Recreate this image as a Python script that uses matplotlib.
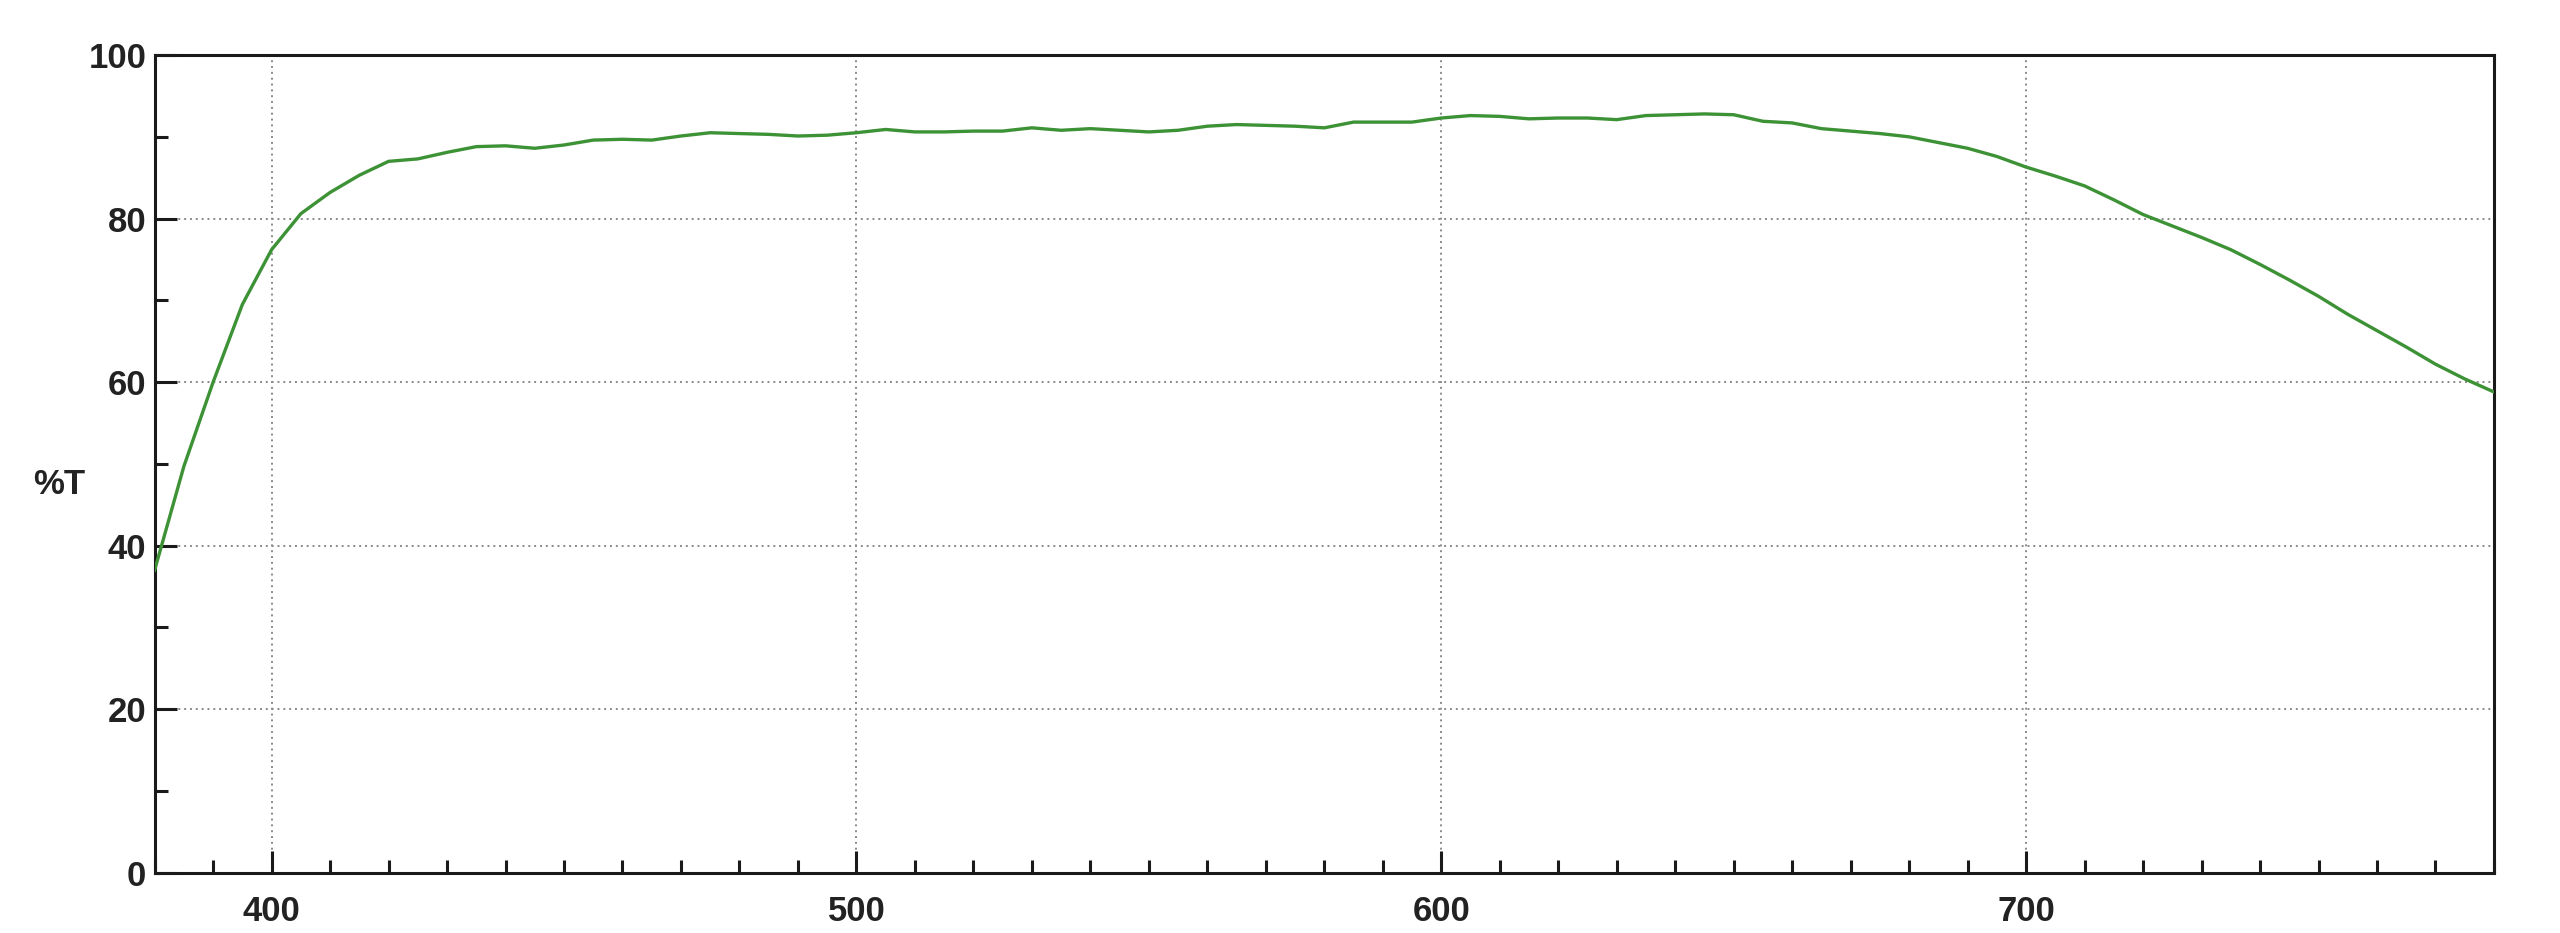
import matplotlib
matplotlib.use("Agg")
import matplotlib.pyplot as plt
from matplotlib.ticker import MultipleLocator

wavelength = [380, 385, 390, 395, 400, 405, 410, 415, 420, 425, 430, 435, 440, 445,
              450, 455, 460, 465, 470, 475, 480, 485, 490, 495, 500, 505, 510, 515,
              520, 525, 530, 535, 540, 545, 550, 555, 560, 565, 570, 575, 580, 585,
              590, 595, 600, 605, 610, 615, 620, 625, 630, 635, 640, 645, 650, 655,
              660, 665, 670, 675, 680, 685, 690, 695, 700, 705, 710, 715, 720, 725,
              730, 735, 740, 745, 750, 755, 760, 765, 770, 775, 780]
transmittance = [37.0, 49.7, 60.0, 69.5, 76.2, 80.6, 83.2, 85.3, 87.0, 87.3, 88.1, 88.8,
                 88.9, 88.6, 89.0, 89.6, 89.7, 89.6, 90.1, 90.5, 90.4, 90.3, 90.1, 90.2,
                 90.5, 90.9, 90.6, 90.6, 90.7, 90.7, 91.1, 90.8, 91.0, 90.8, 90.6, 90.8,
                 91.3, 91.5, 91.4, 91.3, 91.1, 91.8, 91.8, 91.8, 92.3, 92.6, 92.5, 92.2,
                 92.3, 92.3, 92.1, 92.6, 92.7, 92.8, 92.7, 91.9, 91.7, 91.0, 90.7, 90.4,
                 90.0, 89.3, 88.6, 87.6, 86.3, 85.2, 84.0, 82.3, 80.5, 79.1, 77.7, 76.2,
                 74.4, 72.5, 70.5, 68.3, 66.3, 64.3, 62.2, 60.4, 58.8]

x_major = [400, 500, 600, 700]
y_major = [0, 20, 40, 60, 80, 100]
y_label = "%T"

plt.rcParams['font.family'] = ['Liberation Sans', 'DejaVu Sans']

fig = plt.figure(figsize=(25.6, 9.33), dpi=100)
ax = fig.add_axes([0.0604, 0.0645, 0.9138, 0.8765])

ax.plot(wavelength, transmittance, color='#3d9236', lw=2.4, zorder=3,
        solid_joinstyle='round')

ax.set_xlim(380, 780)
ax.set_ylim(0, 100)
ax.set_xticks(x_major)
ax.set_yticks(y_major)
ax.xaxis.set_minor_locator(MultipleLocator(10))
ax.yaxis.set_minor_locator(MultipleLocator(10))

ax.grid(True, which='major', linestyle=(0, (1, 2)), color='#8a8a8a', lw=1.4, zorder=1)

ax.tick_params(axis='both', which='major', direction='in', length=16, width=2.2,
               labelsize=25, color='#1a1a1a', labelcolor='#222222')
ax.tick_params(axis='both', which='minor', direction='in', length=9.5, width=2.2,
               color='#1a1a1a')
ax.tick_params(axis='x', which='major', pad=16)
ax.tick_params(axis='y', which='major', pad=6)
ax.tick_params(top=False, right=False, which='both')

for lab in ax.get_xticklabels() + ax.get_yticklabels():
    lab.set_fontweight('bold')

for s in ax.spines.values():
    s.set_linewidth(2.2)
    s.set_color('#1a1a1a')

fig.text(59 / 2560, 1 - 484 / 933, y_label, fontsize=25, fontweight='bold',
         color='#222222', ha='center', va='center')

fig.savefig("out.png", dpi=100, facecolor='white')
